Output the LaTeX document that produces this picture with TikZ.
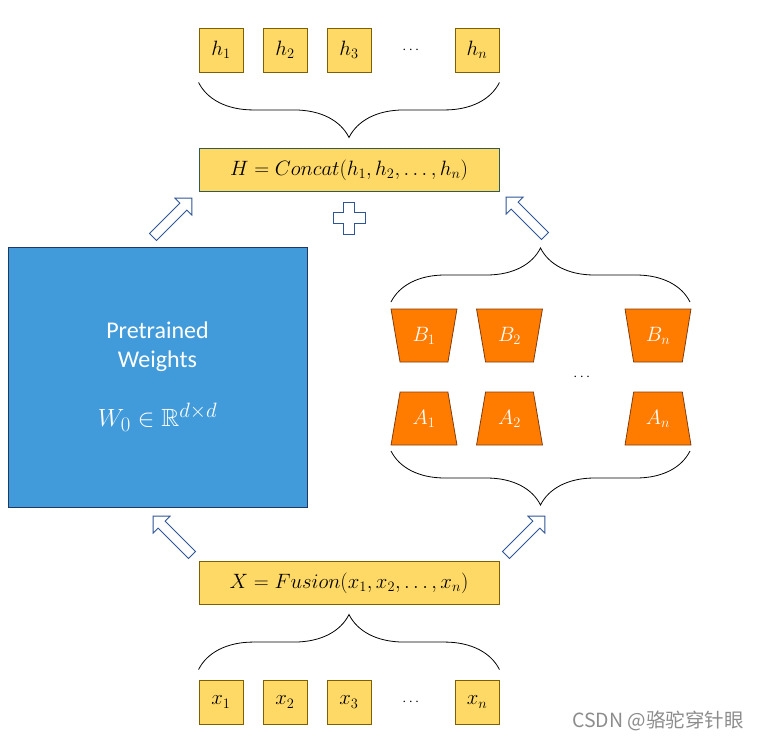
\documentclass[tikz,border=0pt]{standalone}
\usepackage{fontspec}
\usepackage{amsmath}
\usepackage{amssymb}
\newfontfamily\calibri{Carlito}
\newfontfamily\cjk{Noto Sans CJK SC}
\usepackage{tikz}
\usetikzlibrary{decorations.pathreplacing}
\usetikzlibrary{shapes.geometric}
\definecolor{boxyellow}{HTML}{FFD966}
\definecolor{boxrim}{HTML}{7F6000}
\definecolor{sumrim}{HTML}{2E5A5A}
\definecolor{wblue}{HTML}{419BDB}
\definecolor{wrim}{HTML}{1F3864}
\definecolor{lorafill}{HTML}{FF7C00}
\definecolor{lorarim}{HTML}{843C0C}
\definecolor{flowblue}{HTML}{2F5597}
\tikzset{tok/.style={draw=boxrim,fill=boxyellow,line width=0.9pt,minimum size=44,inner sep=0,
           font=\fontsize{20.74}{24}\selectfont},
         sumbox/.style={draw=#1,fill=boxyellow,line width=0.9pt,minimum width=300,minimum height=43,
           inner sep=0,font=\fontsize{20.74}{24}\selectfont},
         lora/.style={trapezium,trapezium angle=76,trapezium stretches=true,minimum width=66,
           minimum height=53,inner sep=0,draw=lorarim,fill=lorafill,line width=0.8pt,text=white,
           font=\fontsize{20.74}{24}\selectfont},
         dotsgap/.style={font=\fontsize{14.4}{17}\selectfont},
         bigbrace/.style={decorate,decoration={brace,amplitude=#1},line width=0.8pt},
         fatarrow/.pic={\draw[flowblue,fill=white,line width=0.9pt]
           (0,-5)--(43,-5)--(43,-12)--(55,0)--(43,12)--(43,5)--(0,5)--cycle;},
         plussign/.pic={\draw[flowblue,fill=white,line width=0.9pt]
           (-5.5,-16)--(5.5,-16)--(5.5,-5.5)--(16,-5.5)--(16,5.5)--(5.5,5.5)--(5.5,16)--(-5.5,16)
           --(-5.5,5.5)--(-16,5.5)--(-16,-5.5)--(-5.5,-5.5)--cycle;}}

\begin{document}
\begin{tikzpicture}[x=1pt,y=-1pt]
\useasboundingbox (0,0) rectangle (761,742);
\foreach \i/\x in {1/221,2/285,3/349}
  \node[tok] (h\i) at (\x,50) {$h_{\i}$};
\node[tok] (hn) at (477,50) {$h_n$};
\node[dotsgap] (hdots) at (412,50) {$\cdots$};
\draw[bigbrace=55pt] ([yshift=-10pt]hn.south east) -- ([yshift=-10pt]h1.south west);
\node[sumbox=sumrim] (H) at (349,170) {$H=Concat(h_1,h_2,\ldots,h_n)$};
\pic at (349,218) {plussign};

\node[draw=wrim,fill=wblue,line width=0.9pt,minimum width=299,minimum height=260,text=white,
  align=center,font=\calibri\fontsize{24}{29}\selectfont] (W) at (157.5,377)
  {Pretrained\\Weights\\[30pt]\fontsize{24.88}{29}\selectfont$W_0\in\mathbb{R}^{d\times d}$};

\foreach \i/\x in {1/424,2/509.5}{
  \node[lora,shape border rotate=180] (B\i) at (\x,335.5) {$B_{\i}$};
  \node[lora] (A\i) at (\x,418.5) {$A_{\i}$};}
\node[lora,shape border rotate=180] (Bn) at (658,335.5) {$B_n$};
\node[lora] (An) at (658,418.5) {$A_n$};
\node[dotsgap] (ldots) at (583,377) {$\cdots$};
\draw[bigbrace=54pt] (391,302) -- (690,302);
\draw[bigbrace=54pt] (690,451) -- (391,451);

\pic[rotate=45] at (153,237) {fatarrow};
\pic[rotate=135] at (545,236) {fatarrow};
\pic[rotate=135] at (192,555) {fatarrow};
\pic[rotate=45] at (506,555) {fatarrow};

\node[sumbox=boxrim] (X) at (349,583) {$X=Fusion(x_1,x_2,\ldots,x_n)$};
\foreach \i/\x in {1/221,2/285,3/349}
  \node[tok] (x\i) at (\x,702) {$x_{\i}$};
\node[tok] (xn) at (477,702) {$x_n$};
\node[dotsgap] (xdots) at (412,702) {$\cdots$};
\draw[bigbrace=55pt] ([yshift=10pt]x1.north west) -- ([yshift=10pt]xn.north east);

\node[text=black!45,font=\cjk\fontsize{19.5}{22}\selectfont] (mark) at (658,721) {CSDN @骆驼穿针眼};
\end{tikzpicture}
\end{document}
